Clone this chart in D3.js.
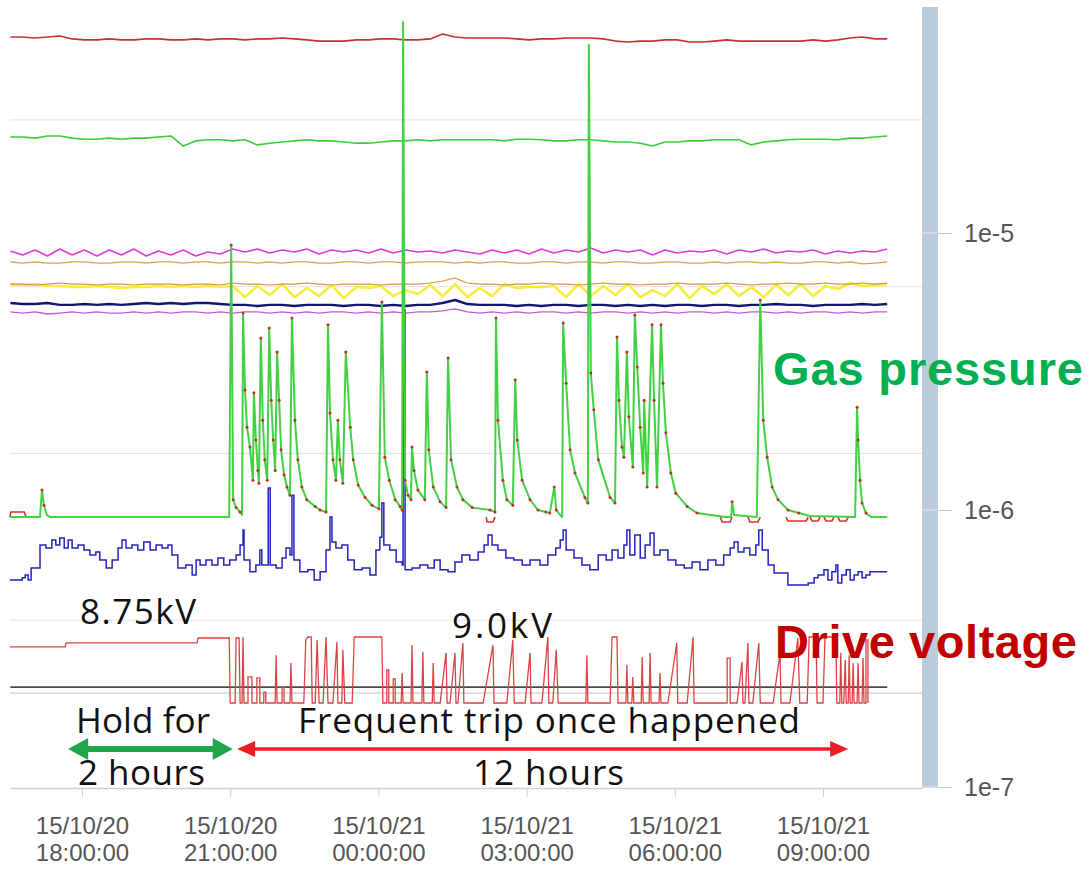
<!DOCTYPE html>
<html lang="en">
<head>
<meta charset="UTF-8">
<title>Gas pressure and drive voltage</title>
<script src="https://d3js.org/d3.v7.min.js"></script>
<style>
  body { margin: 0; background: #fff; }
  svg { display: block; }
  .ann { font-family: "Open Sans", sans-serif; font-size: 35px; fill: #111; }
  .big { font-family: "Liberation Sans", Arial, sans-serif; font-weight: bold; font-size: 47px; }
  .tick text { font-family: "Liberation Sans", Arial, sans-serif; font-size: 24px; fill: #555; }
</style>
</head>
<body>
<svg id="chart" width="1089" height="869"></svg>
<script>
// times are hours counted from 2015-10-20 00:00, pressures in units of 1e-7
var DAY0 = new Date(2015, 9, 20);
var UNIT = 1e-7;
function at(h) { return new Date(DAY0.getTime() + h * 3600e3); }

var tickHours = [18, 21, 24, 27, 30, 33];
var yTicks = [1e-5, 1e-6, 1e-7];
var gridValues = [2.56e-5, 6.4e-6, 1.6e-6, 4e-7];

// upper gauges, sampled every 15 min from 16.55h
var sampleStart = 16.55, sampleStep = 0.25;
var redTop = [510,510,506,510,514,502,498,498,502,498,498,502,502,498,498,502,498,502,502,498,502,502,506,502,498,493,493,493,498,498,502,502,498,498,502,523,510,506,506,506,506,502,498,502,502,506,506,506,502,493,489,493,493,498,498,489,489,493,498,493,493,493,493,493,493,498,493,498,506,510,502,502];
var greenTop = [222,222,220,224,224,220,218,218,220,218,220,220,222,224,206,215,217,217,215,217,208,211,213,215,217,215,215,213,211,211,213,215,215,217,215,217,217,217,217,217,215,218,218,217,215,215,217,217,215,213,213,211,206,213,213,215,215,217,217,217,208,213,215,217,218,218,218,217,220,220,222,224];
var magenta = [86.1,83.3,86.8,82.6,87.5,83.3,86.8,82.6,86.8,83.3,87.5,82.6,86.1,83.3,86.8,82.6,85.4,84.0,87.5,85.4,87.5,84.7,86.8,85.4,87.5,84.0,86.8,85.4,86.8,84.7,87.5,84.7,86.8,85.4,86.1,84.7,86.8,85.4,84.0,86.8,84.7,86.8,84.0,87.5,84.7,86.8,85.4,88.3,84.7,86.8,85.4,86.8,83.3,86.8,84.7,86.1,85.4,86.8,84.0,86.8,85.4,87.5,84.7,86.1,85.4,86.8,84.0,86.1,84.7,86.1,85.4,87.5];
var orange = [78.6,77.9,78.6,77.9,77.9,78.6,78.6,77.9,77.9,78.6,78.6,77.9,78.6,78.6,77.9,78.6,78.6,77.9,78.6,78.6,77.9,78.6,77.9,78.6,78.6,77.9,77.9,78.6,78.6,77.9,78.6,78.6,77.9,78.6,78.6,78.6,77.9,78.6,77.9,78.6,78.6,77.9,77.9,78.6,78.6,77.9,78.6,78.6,77.9,78.6,78.6,77.9,77.9,78.6,78.6,77.9,77.9,78.6,77.9,78.6,78.6,77.9,78.6,77.9,77.9,78.6,78.6,77.9,78.6,77.3,77.9,78.6];
var orange2 = [65.4,65.4,64.9,65.4,66.0,65.4,65.4,64.9,65.4,65.4,64.9,65.4,65.4,65.4,64.9,65.4,65.4,64.9,66.0,65.4,65.4,64.9,65.4,65.4,66.0,65.4,64.9,65.4,65.4,65.4,64.9,65.4,65.4,65.4,66.0,67.1,68.8,66.0,65.4,65.4,64.9,65.4,65.4,66.0,65.4,65.4,64.9,65.4,66.0,65.4,65.4,64.9,65.4,65.4,66.0,65.4,65.4,65.4,66.0,65.4,64.9,65.4,65.4,66.0,65.4,65.4,66.0,65.4,65.4,66.0,65.4,66.0];
var yellow = [65.4,64.9,65.4,64.4,64.4,63.8,63.8,64.4,63.8,63.3,63.8,63.8,64.4,63.8,64.4,63.8,64.4,63.8,64.4,58.7,64.4,59.7,65.4,58.7,63.3,59.2,64.9,58.2,63.8,63.3,64.4,59.2,62.2,60.2,64.9,59.2,65.4,58.7,63.3,59.2,65.4,63.3,63.8,63.8,64.4,58.7,65.4,59.2,64.4,59.7,65.4,58.7,62.2,59.2,65.4,58.2,64.4,60.2,65.4,59.2,63.8,58.7,64.9,59.7,65.4,59.2,64.4,62.8,66.0,64.4,64.9,65.4];
var navy = [55.9,55.4,55.4,55.9,55.0,55.0,55.4,55.0,55.4,55.0,55.4,55.9,55.4,55.9,55.4,55.9,55.9,55.4,55.0,55.0,54.5,55.0,55.0,54.5,55.0,55.0,55.0,54.5,55.0,55.0,54.5,55.0,54.5,55.0,55.0,55.9,57.3,55.4,55.0,55.0,55.0,54.5,55.0,54.5,55.0,55.0,54.5,55.0,55.0,54.5,55.0,54.5,55.0,54.5,55.0,55.0,54.5,55.0,55.0,54.5,55.0,55.0,55.4,55.0,55.0,54.5,55.0,55.0,55.0,55.4,55.0,55.4];
var purple = [51.9,51.4,51.9,51.0,51.4,51.9,51.4,51.9,51.4,51.4,51.9,51.4,51.9,51.4,51.9,51.9,51.4,51.9,51.4,51.9,51.9,51.4,51.9,51.4,51.9,51.4,51.9,51.9,51.4,51.9,51.4,51.9,51.4,51.9,51.9,52.3,53.2,51.9,51.4,51.9,51.4,51.9,51.4,51.9,51.9,51.4,51.9,51.4,51.9,51.9,51.4,51.9,51.4,51.9,51.4,51.9,51.9,51.4,51.9,51.4,51.9,51.9,51.4,51.9,51.4,51.9,51.9,51.4,51.9,51.4,51.9,51.9];

// gas pressure [hour, pressure]
var gasGreen = [
[16.54,9.43],[17.15,9.43],[17.19,11.8],[17.23,10.4],[17.29,9.59],[17.35,9.43],
[20.98,9.43],[21.02,90.5],[21.06,10.9],[21.12,10.2],[21.20,9.84],[21.24,9.59],
[21.26,51.4],[21.30,27.1],[21.34,19.9],[21.40,16.9],[21.46,12.8],
[21.48,26.5],[21.52,17.9],[21.56,13.9],[21.58,12.5],
[21.62,41.8],[21.66,21.1],[21.70,15.2],[21.75,12.8],
[21.79,45.4],[21.83,24.9],[21.87,17.9],[21.91,13.9],
[21.95,37.2],[21.99,24.9],[22.03,16.5],[22.09,13.4],[22.15,12.1],[22.21,11.3],
[22.25,49.3],[22.31,21.1],[22.37,15.2],[22.45,12.1],[22.55,10.9],[22.72,10.3],[22.82,10.0],[22.94,9.84],
[22.98,46.6],[23.02,22.4],[23.08,15.2],[23.14,12.8],
[23.18,21.1],[23.22,15.2],[23.28,12.5],
[23.34,37.2],[23.43,19.9],[23.49,15.2],[23.59,12.3],[23.73,11.1],[23.87,10.4],[24.01,10.1],
[24.07,56.4],[24.13,15.5],[24.22,12.8],[24.34,10.9],[24.44,10.3],[24.48,10.0],
[24.50,578],[24.54,12.8],[24.60,11.3],[24.66,10.9],
[24.68,16.9],[24.72,13.9],[24.80,11.8],[24.94,10.9],
[24.98,31.5],[25.02,16.5],[25.11,12.1],[25.25,10.7],[25.37,10.2],
[25.41,35.4],[25.47,15.2],[25.59,12.1],[25.71,10.9],[25.90,10.2],[26.26,10.0],[26.36,9.84],
[26.38,49.3],[26.42,21.1],[26.52,12.8],[26.60,10.9],[26.72,10.4],
[26.77,29.5],[26.81,17.9],[26.91,12.8],[27.07,10.9],[27.23,10.0],[27.39,9.84],[27.47,9.75],
[27.56,12.1],[27.60,10.0],[27.68,9.59],[27.72,9.43],
[27.74,47.3],[27.80,28.7],[27.88,16.5],[27.98,13.6],[28.18,11.1],[28.24,10.6],
[28.26,477],[28.30,31.2],[28.36,23.0],[28.45,15.2],[28.69,11.1],[28.79,10.6],
[28.83,42.1],[28.87,24.9],[28.93,16.9],[28.97,15.5],
[29.03,37.2],[29.07,21.7],[29.15,14.3],
[29.19,50.6],[29.24,32.8],[29.30,19.9],[29.36,13.6],
[29.38,24.9],[29.44,12.1],
[29.54,46.6],[29.58,24.9],[29.64,12.1],
[29.72,46.6],[29.76,28.7],[29.82,19.0],[29.92,13.6],[30.02,11.5],[30.25,10.3],[30.45,9.75],[31.02,9.43],
[31.14,9.43],[31.16,10.7],[31.20,9.59],[31.66,9.43],
[31.73,57.3],[31.79,21.1],[31.87,15.5],[31.97,12.1],[32.09,10.9],[32.29,10.0],[32.51,9.75],[32.74,9.51],[33.65,9.43],
[33.69,23.5],[33.71,17.9],[33.75,12.8],[33.79,10.6],[33.87,9.75],[33.97,9.43],[34.30,9.43]
];
// second gas gauge, where it dips under the first one
var gasRedDips = [
[[16.54,9.43],[16.56,9.84],[16.83,9.84],[16.87,9.43]],
[[26.18,9.43],[26.20,9.05],[26.32,9.05],[26.36,9.43]],
[[30.92,9.43],[30.96,9.05],[31.12,9.05],[31.16,9.43]],
[[31.48,9.43],[31.52,9.05],[31.68,9.05],[31.73,9.43]],
[[32.25,9.43],[32.29,9.13],[32.66,9.13],[32.70,9.43]],
[[32.74,9.43],[32.78,9.13],[32.90,9.13],[32.94,9.43]],
[[33.02,9.43],[33.06,9.13],[33.18,9.13],[33.22,9.43]],
[[33.30,9.43],[33.34,9.13],[33.47,9.13],[33.51,9.43]]
];

var bluePressure = [
[16.54,5.59],[16.79,5.69],[16.85,5.83],[16.91,5.59],[16.97,6.18],[17.15,7.47],[17.27,7.29],[17.39,7.80],[17.47,7.47],[17.55,7.93],[17.64,7.29],[17.72,7.80],[17.80,7.29],[17.92,7.47],[18.04,7.17],[18.16,6.88],[18.28,7.05],[18.36,6.60],[18.49,6.18],[18.61,6.60],[18.73,7.29],[18.81,7.80],[18.89,7.29],[19.01,7.47],[19.13,7.17],[19.25,7.66],[19.38,7.17],[19.50,7.47],[19.62,7.29],[19.74,7.47],[19.82,6.88],[19.94,6.18],[20.10,6.33],[20.23,5.83],[20.31,6.60],[20.39,6.33],[20.51,6.60],[20.63,6.33],[20.75,6.71],[20.87,6.33],[20.99,6.60],
[21.12,6.88],[21.20,7.47],[21.26,8.47],[21.28,6.60],[21.40,5.98],[21.52,6.33],[21.60,7.17],[21.64,6.33],[21.77,12.0],[21.81,6.33],[21.93,6.18],[22.05,6.71],[22.13,7.29],[22.21,6.88],[22.25,11.3],[22.29,6.60],[22.41,5.98],[22.57,6.08],[22.70,5.59],[22.82,5.98],[22.94,7.17],[23.02,9.43],[23.06,7.66],[23.14,7.29],[23.26,7.47],[23.38,6.60],[23.51,6.08],[23.67,6.18],[23.83,5.83],[23.95,7.17],[24.03,7.98],[24.07,10.6],[24.11,7.47],[24.23,7.17],[24.36,6.49],[24.48,6.33],[24.50,52.7],[24.54,6.08],
[24.68,6.18],[24.84,6.33],[25.00,6.18],[25.13,6.60],[25.25,6.08],[25.41,5.98],[25.55,6.49],[25.69,6.88],[25.85,6.60],[26.02,7.05],[26.14,7.47],[26.22,8.13],[26.30,7.47],[26.42,7.17],[26.58,6.71],[26.74,6.60],[26.91,6.33],[27.07,6.60],[27.27,6.33],[27.43,6.88],[27.59,7.29],[27.68,7.80],[27.74,8.47],[27.80,7.17],[27.96,6.71],[28.12,6.33],[28.28,6.08],[28.45,6.88],[28.61,6.60],[28.73,7.17],[28.85,6.71],[28.97,7.47],[29.03,8.47],[29.09,6.88],[29.19,8.13],[29.30,6.71],[29.40,7.47],[29.50,8.26],[29.58,6.88],[29.70,7.17],[29.86,6.60],
[30.02,6.33],[30.19,6.18],[30.35,6.49],[30.51,6.08],[30.67,6.60],[30.83,6.33],[30.99,6.88],[31.12,7.29],[31.20,7.66],[31.28,7.05],[31.40,7.29],[31.52,6.88],[31.64,7.47],[31.70,8.47],[31.77,7.17],[31.89,6.33],[32.01,5.92],[32.17,5.92],[32.29,5.36],[32.53,5.36],[32.70,5.45],[32.82,5.69],[32.90,5.83],[33.02,6.08],[33.10,5.59],[33.18,5.98],[33.26,6.33],[33.30,5.45],[33.38,5.83],[33.47,6.08],[33.55,5.59],[33.63,5.83],[33.71,5.98],[33.79,5.69],[33.87,5.83],[33.95,5.98],[34.30,5.98]
];

// drive voltage [hour, kV]
var driveKV = [
[16.54,8.70],[17.66,8.70],[17.68,8.82],[20.33,8.82],[20.35,8.97],[20.98,8.97],[21.00,7.00],
[21.10,7.00],[21.12,8.97],[21.18,8.97],[21.20,7.00],
[21.24,7.00],[21.26,9.00],[21.28,7.00],
[21.36,7.00],[21.36,7.79],[21.44,7.79],[21.44,7.00],
[21.54,7.00],[21.54,7.76],[21.60,7.76],[21.60,7.00],
[21.68,7.00],[21.68,7.33],[21.72,7.33],[21.72,7.00],
[21.91,7.00],[21.93,8.45],[21.95,7.00],
[22.05,7.00],[22.05,7.48],[22.09,7.48],[22.09,7.00],
[22.21,7.00],[22.23,8.21],[22.25,7.00],
[22.49,7.00],[22.53,8.91],[22.57,9.00],[22.64,9.00],[22.66,7.00],
[22.72,7.00],[22.76,8.91],[22.80,7.00],
[22.88,7.00],[22.94,9.00],[22.98,7.00],
[23.08,7.00],[23.16,8.85],[23.18,7.00],
[23.26,7.00],[23.28,8.61],[23.32,7.00],
[23.47,7.00],[23.51,9.00],[24.07,9.00],[24.09,7.00],
[24.17,7.00],[24.17,8.00],[24.21,8.00],[24.21,7.00],
[24.30,7.00],[24.30,7.73],[24.34,7.73],[24.34,7.00],
[24.46,7.00],[24.48,7.91],[24.50,7.00],
[24.66,7.00],[24.68,8.76],[24.70,7.00],
[24.88,7.00],[24.90,8.55],[24.92,7.00],
[25.09,7.00],[25.11,8.21],[25.13,7.00],
[25.25,7.00],[25.37,8.52],[25.39,7.00],
[25.45,7.00],[25.55,8.52],[25.57,7.00],
[25.61,7.00],[25.71,8.82],[25.73,7.00],
[26.12,7.00],[26.32,8.76],[26.34,7.00],
[26.60,7.00],[26.72,8.91],[26.75,7.00],
[26.97,7.00],[27.07,8.52],[27.09,7.00],
[27.31,7.00],[27.43,9.00],[27.45,7.00],
[27.53,7.00],[27.60,8.61],[27.64,7.00],
[28.20,7.00],[28.22,8.45],[28.24,7.00],
[28.69,7.00],[28.73,9.00],[28.83,9.00],[28.85,7.00],
[29.01,7.00],[29.03,8.15],[29.05,7.00],
[29.13,7.00],[29.15,7.79],[29.17,7.00],
[29.32,7.00],[29.34,8.39],[29.36,7.00],
[29.48,7.00],[29.50,8.52],[29.52,7.00],
[29.68,7.00],[29.70,7.91],[29.72,7.00],
[29.86,7.00],[30.04,8.82],[30.06,7.00],
[30.25,7.00],[30.37,9.00],[30.39,7.00],
[31.06,7.00],[31.06,8.36],[31.12,8.36],[31.12,7.00],
[31.26,7.00],[31.36,8.24],[31.38,7.00],
[31.42,7.00],[31.48,8.82],[31.50,7.00],
[31.58,7.00],[31.70,8.82],[31.73,7.00],
[31.99,7.00],[32.13,8.52],[32.15,7.00],
[32.33,7.00],[32.49,8.97],[32.53,7.00],
[32.68,7.00],[32.72,9.00],[32.86,9.00],[32.88,7.00],
[33.00,7.00],[33.04,9.00],[33.26,9.00],[33.28,7.00],
[33.34,7.00],[33.36,8.52],[33.38,7.00],
[33.42,7.00],[33.45,8.30],[33.47,7.00],
[33.51,7.00],[33.53,8.45],[33.55,7.00],
[33.59,7.00],[33.61,8.21],[33.63,7.00],
[33.69,7.00],[33.71,8.21],[33.73,7.00],
[33.79,7.00],[33.81,8.36],[33.83,7.00],
[33.87,7.00],[33.87,8.91],[33.91,8.91],[33.91,7.00]
];
var tripLevelKV = 7.48, floorKV = 7.30;
var dataEnd = 34.30;

var svg = d3.select("#chart");

var x = d3.scaleTime().domain([at(16.5425), at(35.004)]).range([10, 922]);
var y = d3.scaleLog().domain([1e-7, 1e-5]).range([787, 233]);
var yV = d3.scaleLinear().domain([7, 9]).range([703, 637]);

function sampled(vals) {
  return vals.map(function(v, i) { return [sampleStart + i * sampleStep, v]; });
}
var lineP = d3.line().x(function(d) { return x(at(d[0])); }).y(function(d) { return y(d[1] * UNIT); });
var stepP = d3.line().curve(d3.curveStepAfter).x(function(d) { return x(at(d[0])); }).y(function(d) { return y(d[1] * UNIT); });
var lineV = d3.line().x(function(d) { return x(at(d[0])); }).y(function(d) { return yV(d[1]); });

// grid
svg.append("g").selectAll("line").data(gridValues).join("line")
  .attr("x1", x.range()[0]).attr("x2", x.range()[1])
  .attr("y1", function(d) { return y(d); }).attr("y2", function(d) { return y(d); })
  .attr("stroke", "#e3e3e3").attr("stroke-width", 1);

// axis bar on the right
svg.append("rect").attr("x", x.range()[1]).attr("y", 7).attr("width", 16).attr("height", 781).attr("fill", "#bccbdb");
svg.append("g").selectAll("line").data(yTicks).join("line")
  .attr("x1", x.range()[1]).attr("x2", x.range()[1] + 16)
  .attr("y1", function(d) { return y(d); }).attr("y2", function(d) { return y(d); })
  .attr("stroke", "#e2e8ef");

// voltage reference lines
svg.append("line").attr("x1", x.range()[0]).attr("x2", x.range()[1])
  .attr("y1", yV(floorKV)).attr("y2", yV(floorKV)).attr("stroke", "#c4c4c4");
svg.append("line").attr("x1", x(at(sampleStart))).attr("x2", x(at(dataEnd)))
  .attr("y1", yV(tripLevelKV)).attr("y2", yV(tripLevelKV)).attr("stroke", "#4a4a4a").attr("stroke-width", 1.6);

// upper gauges
var upper = [
  { vals: redTop, color: "#c8302c", w: 1.6 },
  { vals: greenTop, color: "#3ccc3c", w: 1.6 },
  { vals: magenta, color: "#dc3cdc", w: 1.6 },
  { vals: orange, color: "#e89a48", w: 1.3 },
  { vals: yellow, color: "#f4ee3a", w: 2.6 },
  { vals: orange2, color: "#e0903a", w: 1.2 },
  { vals: purple, color: "#c45ad2", w: 1.3 },
  { vals: navy, color: "#15156e", w: 2.4 }
];
svg.append("g").selectAll("path").data(upper).join("path")
  .attr("d", function(s) { return lineP(sampled(s.vals)); })
  .attr("fill", "none").attr("stroke", function(s) { return s.color; })
  .attr("stroke-width", function(s) { return s.w; }).attr("stroke-linejoin", "round");

// lower blue gauge
svg.append("path").attr("d", stepP(bluePressure))
  .attr("fill", "none").attr("stroke", "#2424bc").attr("stroke-width", 1.5);

// gas pressure
svg.append("g").selectAll("path").data(gasRedDips).join("path")
  .attr("d", lineP).attr("fill", "none").attr("stroke", "#d8342a").attr("stroke-width", 1.6);
svg.append("path").attr("d", lineP(gasGreen))
  .attr("fill", "none").attr("stroke", "#44d044").attr("stroke-width", 2).attr("stroke-linejoin", "round");
svg.append("g").selectAll("circle")
  .data(gasGreen.filter(function(d) { return d[1] > 9.7 && d[1] < 100; }))
  .join("circle")
  .attr("cx", function(d) { return x(at(d[0])); }).attr("cy", function(d) { return y(d[1] * UNIT); })
  .attr("r", 1.5).attr("fill", "#c0302a");

// drive voltage
svg.append("path").attr("d", lineV(driveKV))
  .attr("fill", "none").attr("stroke", "#d84444").attr("stroke-width", 1.3);

// x axis
var fmtDate = d3.timeFormat("%y/%m/%d"), fmtTime = d3.timeFormat("%H:%M:%S");
var gx = svg.append("g").attr("transform", "translate(0,788)")
  .call(d3.axisBottom(x).tickValues(tickHours.map(at)).tickSize(9).tickSizeOuter(0).tickFormat(""));
gx.select(".domain").attr("stroke", "#d0d0d0").attr("stroke-width", 1.5);
gx.selectAll(".tick line").attr("stroke", "#d0d0d0");
gx.selectAll(".tick text").remove();
var lab = gx.selectAll(".tick").append("text").attr("text-anchor", "middle");
lab.append("tspan").attr("x", 0).attr("y", 46).text(function(d) { return fmtDate(d); });
lab.append("tspan").attr("x", 0).attr("y", 73).text(function(d) { return fmtTime(d); });

// y axis (right)
var gy = svg.append("g").attr("transform", "translate(" + (x.range()[1] + 16) + ",0)")
  .call(d3.axisRight(y).tickValues(yTicks).tickSize(14).tickPadding(12)
    .tickFormat(function(d) { return "1e" + Math.round(Math.log10(d)); }));
gy.select(".domain").remove();
gy.selectAll(".tick line").attr("stroke", "#c8c8c8");
gy.selectAll(".tick text").style("font-size", "25px");

// annotations
var notes = [
  { t: "8.75kV", x: 80, y: 624, len: 116 },
  { t: "9.0kV", x: 452, y: 638, len: 100 },
  { t: "Hold for", x: 76, y: 733, len: 134 },
  { t: "Frequent trip once happened", x: 298, y: 733, len: 502 },
  { t: "2 hours", x: 78, y: 785, len: 127 },
  { t: "12 hours", x: 473, y: 785, len: 151 }
];
svg.append("g").selectAll("text").data(notes).join("text")
  .attr("class", "ann").attr("x", function(d) { return d.x; }).attr("y", function(d) { return d.y; })
  .attr("textLength", function(d) { return d.len; }).attr("lengthAdjust", "spacing")
  .text(function(d) { return d.t; });

svg.append("text").attr("class", "big").attr("x", 773).attr("y", 385).attr("fill", "#00b050")
  .attr("textLength", 310).attr("lengthAdjust", "spacing").text("Gas pressure");
svg.append("text").attr("class", "big").attr("x", 775).attr("y", 658).attr("fill", "#c00000")
  .attr("textLength", 302).attr("lengthAdjust", "spacing").text("Drive voltage");

// arrows
function arrow(h1, h2, yy, w, len, half, color) {
  var x1 = x(at(h1)), x2 = x(at(h2));
  var g = svg.append("g").attr("fill", color).attr("stroke", "none");
  g.append("line").attr("x1", x1 + len - 2).attr("x2", x2 - len + 2).attr("y1", yy).attr("y2", yy)
    .attr("stroke", color).attr("stroke-width", w);
  g.append("path").attr("d", "M" + x1 + "," + yy + "L" + (x1 + len) + "," + (yy - half) + "L" + (x1 + len) + "," + (yy + half) + "Z");
  g.append("path").attr("d", "M" + x2 + "," + yy + "L" + (x2 - len) + "," + (yy - half) + "L" + (x2 - len) + "," + (yy + half) + "Z");
}
arrow(17.72, 21.05, 749, 6, 20, 11, "#1ea64b");
arrow(21.14, 33.51, 749, 3.5, 18, 8, "#ee1c24");
</script>
</body>
</html>
